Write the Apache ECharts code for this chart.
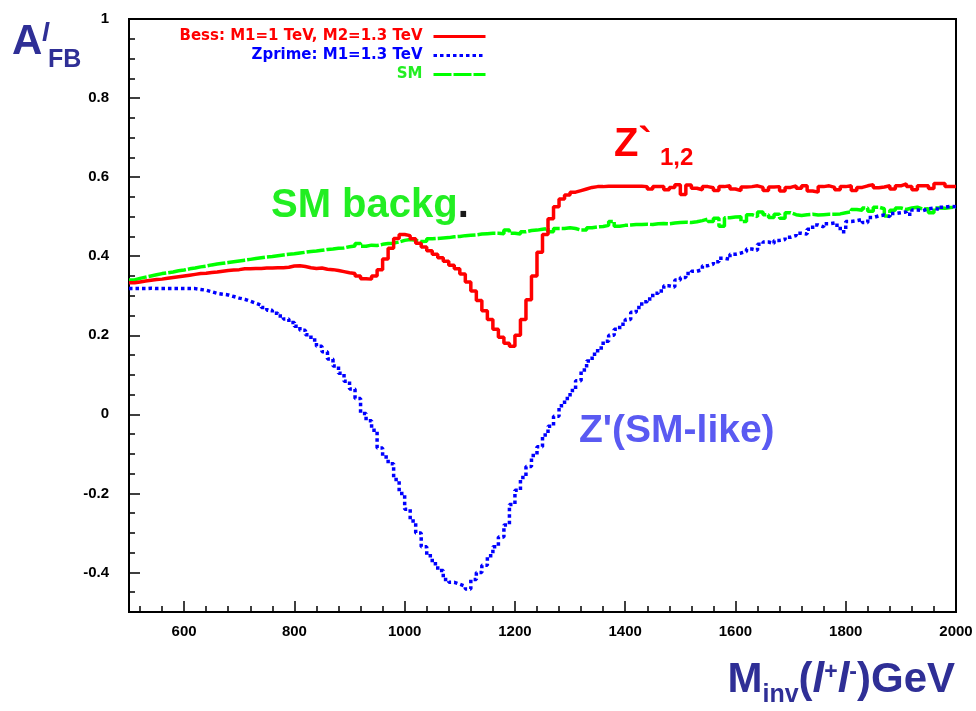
<!DOCTYPE html>
<html>
<head>
<meta charset="utf-8">
<script src="https://cdn.jsdelivr.net/npm/echarts@6/dist/echarts.min.js"></script>
<style>
  html, body { margin: 0; padding: 0; background: #fff; }
  #chart { width: 976px; height: 711px; }
</style>
</head>
<body>
<div id="chart"></div>
<script>
// ---- histogram binning (GeV) ----
const massMin = 500;
const massMax = 2000;
const binWidth = 10;

// ---- series names ----
const seriesNames = ['Bess: M1=1 TeV, M2=1.3 TeV', 'Zprime: M1=1.3 TeV', 'SM'];

// ---- A_FB per 10 GeV bin, 500..2000 GeV (one row = 100 GeV) ----
const bessValues = [
  0.333,0.335,0.337,0.339,0.341,0.342,0.344,0.346,0.348,0.350,
  0.352,0.354,0.356,0.357,0.359,0.360,0.362,0.364,0.365,0.366,
  0.368,0.368,0.369,0.369,0.370,0.370,0.371,0.371,0.372,0.375,
  0.376,0.374,0.371,0.369,0.370,0.367,0.366,0.364,0.361,0.358,
  0.356,0.350,0.343,0.342,0.350,0.366,0.393,0.420,0.445,0.455,
  0.452,0.444,0.433,0.423,0.414,0.405,0.396,0.387,0.377,0.368,
  0.355,0.335,0.312,0.288,0.262,0.240,0.215,0.195,0.180,0.172,
  0.200,0.240,0.290,0.350,0.410,0.455,0.495,0.525,0.545,0.555,
  0.562,0.566,0.570,0.574,0.576,0.576,0.577,0.577,0.577,0.577,
  0.577,0.577,0.577,0.576,0.570,0.576,0.576,0.568,0.574,0.581,
  0.556,0.580,0.572,0.568,0.576,0.573,0.566,0.576,0.578,0.570,
  0.566,0.575,0.576,0.578,0.574,0.566,0.575,0.576,0.565,0.574,
  0.578,0.572,0.578,0.565,0.562,0.576,0.578,0.574,0.568,0.576,
  0.578,0.566,0.574,0.578,0.581,0.573,0.575,0.578,0.570,0.578,
  0.583,0.576,0.568,0.578,0.578,0.571,0.584,0.584,0.576,0.576
];

const zprimeValues = [
  0.318,0.318,0.318,0.319,0.318,0.318,0.318,0.318,0.318,0.318,
  0.318,0.318,0.316,0.314,0.310,0.306,0.304,0.302,0.298,0.294,
  0.291,0.286,0.281,0.276,0.270,0.263,0.256,0.249,0.241,0.232,
  0.223,0.213,0.201,0.188,0.172,0.158,0.140,0.122,0.104,0.084,
  0.064,0.040,0.002,-0.016,-0.040,-0.085,-0.108,-0.125,-0.165,-0.200,
  -0.240,-0.270,-0.300,-0.335,-0.358,-0.378,-0.395,-0.418,-0.425,-0.430,
  -0.435,-0.442,-0.418,-0.400,-0.382,-0.358,-0.335,-0.310,-0.280,-0.228,
  -0.192,-0.160,-0.132,-0.104,-0.082,-0.052,-0.030,-0.005,0.022,0.040,
  0.060,0.085,0.112,0.135,0.152,0.168,0.185,0.200,0.215,0.228,
  0.240,0.258,0.270,0.285,0.292,0.306,0.312,0.325,0.322,0.340,
  0.346,0.356,0.362,0.366,0.376,0.380,0.386,0.395,0.392,0.405,
  0.408,0.412,0.418,0.415,0.430,0.436,0.432,0.440,0.442,0.448,
  0.452,0.458,0.456,0.468,0.479,0.474,0.482,0.484,0.478,0.462,
  0.488,0.490,0.493,0.485,0.498,0.502,0.504,0.500,0.508,0.510,
  0.512,0.506,0.517,0.515,0.520,0.522,0.518,0.524,0.526,0.525
];

const smValues = [
  0.340,0.344,0.347,0.350,0.353,0.356,0.358,0.360,0.363,0.365,
  0.368,0.370,0.373,0.375,0.378,0.380,0.382,0.384,0.386,0.388,
  0.390,0.392,0.394,0.396,0.398,0.399,0.401,0.403,0.405,0.406,
  0.408,0.410,0.412,0.413,0.415,0.417,0.418,0.420,0.421,0.424,
  0.426,0.432,0.425,0.428,0.427,0.430,0.432,0.433,0.436,0.440,
  0.442,0.440,0.437,0.438,0.444,0.445,0.446,0.447,0.449,0.450,
  0.452,0.453,0.454,0.456,0.457,0.458,0.458,0.457,0.466,0.458,
  0.456,0.462,0.465,0.466,0.468,0.470,0.462,0.470,0.470,0.472,
  0.470,0.466,0.466,0.472,0.474,0.475,0.478,0.488,0.476,0.478,
  0.479,0.480,0.480,0.481,0.480,0.482,0.483,0.482,0.484,0.485,
  0.486,0.485,0.487,0.490,0.494,0.488,0.496,0.476,0.497,0.499,
  0.500,0.488,0.505,0.500,0.512,0.505,0.498,0.506,0.496,0.510,
  0.505,0.503,0.505,0.506,0.504,0.505,0.506,0.506,0.507,0.510,
  0.512,0.518,0.516,0.522,0.514,0.524,0.520,0.502,0.516,0.522,
  0.518,0.522,0.524,0.519,0.520,0.510,0.522,0.521,0.523,0.524
];

// ---- axis ticks / labels ----
const xTickLabels = [600, 800, 1000, 1200, 1400, 1600, 1800, 2000];
const yTickLabels = [-0.4, -0.2, 0, 0.2, 0.4, 0.6, 0.8, 1];
const xMinorStep = 40;
const yMinorStep = 0.05;
const yMin = -0.5, yMax = 1;

// ---- build options from the arrays ----
function histData(vals) {
  const d = vals.map((v, i) => [massMin + i * binWidth, v]);
  d.push([massMin + vals.length * binWidth, vals[vals.length - 1]]);
  return d;
}
const xMinor = [];
for (let v = massMin + 20; v < massMax; v += xMinorStep) xMinor.push(v);
const yMinor = [];
for (let k = Math.round(yMin / yMinorStep) + 1; k * yMinorStep < yMax - 1e-9; k++) {
  yMinor.push(Math.round(k * yMinorStep * 100) / 100);
}

const FONT = 'Liberation Sans, Arial, Helvetica, sans-serif';
const LEGEND_FONT = 'DejaVu Sans, Liberation Sans, sans-serif';
const NAVY = '#2f2f96';

const chart = echarts.init(document.getElementById('chart'), null, { renderer: 'canvas' });

const option = {
  animation: false,
  backgroundColor: '#ffffff',
  textStyle: { fontFamily: FONT },
  grid: {
    left: 129, right: 20, top: 19, bottom: 99,
    show: true, borderColor: '#000', borderWidth: 2,
    containLabel: false, outerBoundsMode: 'none'
  },
  legend: {
    orient: 'vertical',
    align: 'right',
    right: 484,
    top: 24,
    itemWidth: 52,
    itemHeight: 14,
    itemGap: 4,
    itemStyle: { opacity: 0 },
    lineStyle: { width: 3 },
    textStyle: { fontSize: 15, fontWeight: 'bold', fontFamily: LEGEND_FONT, padding: [0, 6, 0, 0], lineHeight: 15 },
    data: [
      { name: seriesNames[0], textStyle: { color: '#ff0000' } },
      { name: seriesNames[1], textStyle: { color: '#0000ff' } },
      { name: seriesNames[2], textStyle: { color: '#22ee22' } }
    ]
  },
  xAxis: [
    {
      type: 'value', min: massMin, max: massMax, position: 'bottom',
      axisLine: { show: true, onZero: false, lineStyle: { color: '#000', width: 2 } },
      axisTick: { show: true, inside: true, length: 11, customValues: xTickLabels, lineStyle: { color: '#000', width: 1.5 } },
      axisLabel: { show: true, customValues: xTickLabels, margin: 12, fontSize: 15, fontWeight: 'bold', color: '#000', fontFamily: FONT,
                   formatter: v => String(v) },
      splitLine: { show: false }
    },
    {
      type: 'value', min: massMin, max: massMax, position: 'bottom',
      axisLine: { show: false, onZero: false },
      axisTick: { show: true, inside: true, length: 6, customValues: xMinor, lineStyle: { color: '#000', width: 1.5 } },
      axisLabel: { show: false },
      splitLine: { show: false }
    }
  ],
  yAxis: [
    {
      type: 'value', min: yMin, max: yMax, position: 'left',
      axisLine: { show: true, onZero: false, lineStyle: { color: '#000', width: 2 } },
      axisTick: { show: true, inside: true, length: 11, customValues: yTickLabels, lineStyle: { color: '#000', width: 1.5 } },
      axisLabel: { show: true, customValues: yTickLabels, margin: 20, fontSize: 15, fontWeight: 'bold', color: '#000', fontFamily: FONT,
                   formatter: v => String(Math.round(v * 10) / 10) },
      splitLine: { show: false }
    },
    {
      type: 'value', min: yMin, max: yMax, position: 'left',
      axisLine: { show: false, onZero: false },
      axisTick: { show: true, inside: true, length: 6, customValues: yMinor, lineStyle: { color: '#000', width: 1.5 } },
      axisLabel: { show: false },
      splitLine: { show: false }
    }
  ],
  series: [
    {
      name: seriesNames[2], type: 'line', step: 'end', symbol: 'none', z: 2,
      data: histData(smValues),
      color: '#00ff00',
      lineStyle: { color: '#00ff00', width: 3.5, type: [18, 2], cap: 'butt' }
    },
    {
      name: seriesNames[0], type: 'line', step: 'end', symbol: 'none', z: 3,
      data: histData(bessValues),
      color: '#ff0000',
      lineStyle: { color: '#ff0000', width: 3.5, type: 'solid' }
    },
    {
      name: seriesNames[1], type: 'line', step: 'end', symbol: 'none', z: 4,
      data: histData(zprimeValues),
      color: '#0000ff',
      lineStyle: { color: '#0000ff', width: 3.5, type: [3.5, 3], cap: 'butt' }
    }
  ],
  graphic: [
    // y-axis title A^l_FB
    { type: 'text', left: 12, top: 21, style: { text: 'A', fontSize: 42, fontWeight: 'bold', fill: NAVY, fontFamily: FONT } },
    { type: 'text', left: 42, top: 21, style: { text: 'l', fontSize: 26, fontWeight: 'bold', fontStyle: 'italic', fill: NAVY, fontFamily: FONT } },
    { type: 'text', left: 48, top: 48, style: { text: 'FB', fontSize: 25, fontWeight: 'bold', fill: NAVY, fontFamily: FONT } },
    // x-axis title
    { type: 'text', right: 21, top: 659, style: {
        text: '{m|M}{sub|inv}{m|(}{it|l}{sup|+}{it|l}{sup|-}{m|)GeV}',
        rich: {
          m:   { fontSize: 42, fontWeight: 'bold', fill: NAVY, fontFamily: FONT, verticalAlign: 'top', lineHeight: 48 },
          it:  { fontSize: 42, fontWeight: 'bold', fontStyle: 'italic', fill: NAVY, fontFamily: FONT, verticalAlign: 'top', lineHeight: 48 },
          sub: { fontSize: 25, fontWeight: 'bold', fill: NAVY, fontFamily: FONT, verticalAlign: 'top', lineHeight: 25, padding: [24, 0, 0, 0] },
          sup: { fontSize: 23, fontWeight: 'bold', fill: NAVY, fontFamily: FONT, verticalAlign: 'top', lineHeight: 23, padding: [2, 0, 0, 0] }
        }
      } },
    // annotations
    { type: 'text', left: 614, top: 125, style: { text: 'Z`', fontSize: 40, fontWeight: 'bold', fill: '#ff0000', fontFamily: FONT } },
    { type: 'text', left: 660, top: 146, style: { text: '1,2', fontSize: 24, fontWeight: 'bold', fill: '#ff0000', fontFamily: FONT } },
    { type: 'text', left: 271, top: 186, style: {
        text: '{g|SM backg}{k|.}',
        rich: {
          g: { fontSize: 40, fontWeight: 'bold', fill: '#22ee22', fontFamily: FONT },
          k: { fontSize: 40, fontWeight: 'bold', fill: '#1a1a1a', fontFamily: FONT }
        }
      } },
    { type: 'text', left: 579, top: 412, style: { text: "Z'(SM-like)", fontSize: 39, fontWeight: 'bold', fill: '#5a5af2', fontFamily: FONT } }
  ]
};

chart.setOption(option);
</script>
</body>
</html>
